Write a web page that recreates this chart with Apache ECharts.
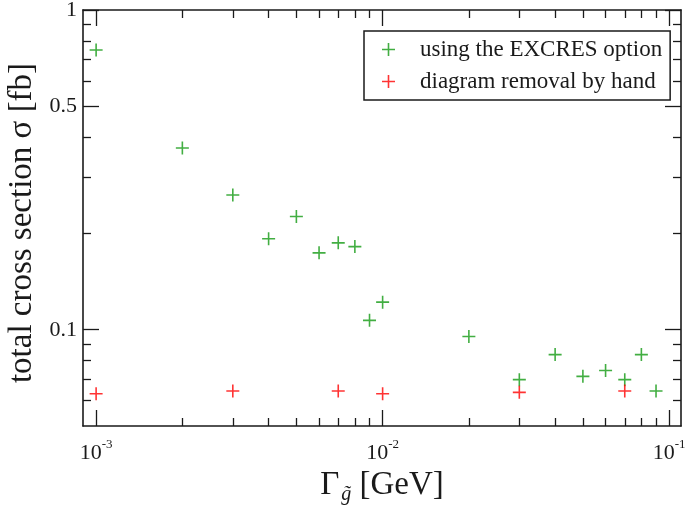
<!DOCTYPE html>
<html>
<head>
<meta charset="utf-8">
<script src="https://cdn.jsdelivr.net/npm/echarts@6/dist/echarts.min.js"></script>
<style>
html,body{margin:0;padding:0;background:#fff;}
#chart{width:689px;height:506px;}
</style>
</head>
<body>
<div id="chart"></div>
<script>
// ---- data ----
const widthsExcres = [0.001, 0.002, 0.003, 0.004, 0.005, 0.006, 0.007, 0.008, 0.009, 0.01, 0.02, 0.03, 0.04, 0.05, 0.06, 0.07, 0.08, 0.09];
const sigmaExcres  = [0.75, 0.37, 0.264, 0.1925, 0.226, 0.174, 0.187, 0.182, 0.107, 0.122, 0.0953, 0.0698, 0.0836, 0.0715, 0.0746, 0.0698, 0.0836, 0.0643];
const widthsHand   = [0.001, 0.003, 0.007, 0.01, 0.03, 0.07];
const sigmaHand    = [0.0631, 0.0643, 0.0643, 0.0631, 0.0637, 0.0643];
const xMajorTicks  = [0.001, 0.01, 0.1];
const xMinorTicks  = [0.002,0.003,0.004,0.005,0.006,0.007,0.008,0.009,0.02,0.03,0.04,0.05,0.06,0.07,0.08,0.09];
const yMajorTicks  = [0.1, 0.5, 1];
const yMinorTicks  = [0.06,0.07,0.08,0.09,0.2,0.3,0.4,0.6,0.7,0.8,0.9];
const xRange = [0.0009, 0.11];
const yRange = [0.05, 1];
const seriesNames = ['using the EXCRES option', 'diagram removal by hand'];

const L = v => Math.log10(v);
const FONT = '"Liberation Serif", "DejaVu Serif", serif';
const FRAME = '#1a1a1a';
const TXT = '#1a1a1a';
const PLUS = 'path://M5.7,0 h1.6 v13 h-1.6 z M0,5.7 h13 v1.6 h-13 z';

function xAx(pos, major, withLabels, showLine) {
  const ticks = (major ? xMajorTicks : xMinorTicks).map(L);
  return {
    type: 'value', position: pos, min: L(xRange[0]), max: L(xRange[1]),
    axisLine: { show: showLine, onZero: false, lineStyle: { color: FRAME, width: 1.6 } },
    axisTick: { show: true, inside: true, length: major ? 16 : 8, customValues: ticks, lineStyle: { color: FRAME, width: 1.3 } },
    axisLabel: withLabels ? {
      show: true, customValues: ticks, margin: 12,
      formatter: v => '{b|10}{s|' + Math.round(v) + '}',
      rich: {
        b: { fontFamily: FONT, fontSize: 22, color: TXT, verticalAlign: 'bottom', lineHeight: 26 },
        s: { fontFamily: FONT, fontSize: 13, color: TXT, verticalAlign: 'top', lineHeight: 26 }
      }
    } : { show: false },
    splitLine: { show: false }
  };
}
function yAx(pos, major, withLabels, showLine) {
  const ticks = (major ? yMajorTicks : yMinorTicks).map(L);
  return {
    type: 'value', position: pos, min: L(yRange[0]), max: L(yRange[1]),
    axisLine: { show: showLine, onZero: false, lineStyle: { color: FRAME, width: 1.6 } },
    axisTick: { show: true, inside: true, length: major ? 16 : 8, customValues: ticks, lineStyle: { color: FRAME, width: 1.3 } },
    axisLabel: withLabels ? {
      show: true, customValues: ticks, margin: 6,
      fontFamily: FONT, fontSize: 22, color: TXT,
      formatter: v => String(parseFloat(Math.pow(10, v).toPrecision(3)))
    } : { show: false },
    splitLine: { show: false }
  };
}

const xAxes = [xAx('bottom', true, true, true), xAx('bottom', false, false, false), xAx('top', true, false, true), xAx('top', false, false, false)];
const yAxes = [yAx('left', true, true, true), yAx('left', false, false, false), yAx('right', true, false, true), yAx('right', false, false, false)];

xAxes[0].name = '{G|\u0393}{sub|g\u0303}{t| [GeV]}';
xAxes[0].nameLocation = 'middle';
xAxes[0].nameGap = 37;
xAxes[0].nameTextStyle = {
  rich: {
    G: { fontFamily: FONT, fontSize: 33, color: TXT },
    sub: { fontFamily: FONT, fontSize: 20, fontStyle: 'italic', color: TXT, padding: [18, 0, 0, 2] },
    t: { fontFamily: FONT, fontSize: 33, color: TXT }
  }
};
yAxes[0].name = 'total cross section \u03c3 [fb]';
yAxes[0].nameLocation = 'middle';
yAxes[0].nameGap = 26;
yAxes[0].nameTextStyle = { fontFamily: FONT, fontSize: 33, color: TXT, padding: [0, 10, 0, 0] };

const chart = echarts.init(document.getElementById('chart'), null, { renderer: 'canvas' });
chart.setOption({
  animation: false,
  backgroundColor: '#fff',
  grid: { left: 83, right: 8, top: 10, bottom: 80, containLabel: false, outerBoundsMode: 'none' },
  xAxis: xAxes,
  yAxis: yAxes,
  legend: {
    orient: 'vertical', left: 364, top: 31,
    padding: [7, 8, 7, 18], itemGap: 9,
    itemWidth: 47, itemHeight: 13,
    borderColor: FRAME, borderWidth: 1.5, backgroundColor: '#fff',
    textStyle: { fontFamily: FONT, fontSize: 23, color: TXT, lineHeight: 21, padding: [0, 0, 0, 3] },
    data: seriesNames.map(n => ({ name: n, icon: PLUS }))
  },
  series: [
    { name: seriesNames[0], type: 'scatter', symbol: PLUS, symbolSize: 13, itemStyle: { color: '#139a13' },
      data: widthsExcres.map((w, i) => [L(w), L(sigmaExcres[i])]) },
    { name: seriesNames[1], type: 'scatter', symbol: PLUS, symbolSize: 13, itemStyle: { color: '#ff0000' },
      data: widthsHand.map((w, i) => [L(w), L(sigmaHand[i])]) }
  ]
});
</script>
</body>
</html>
